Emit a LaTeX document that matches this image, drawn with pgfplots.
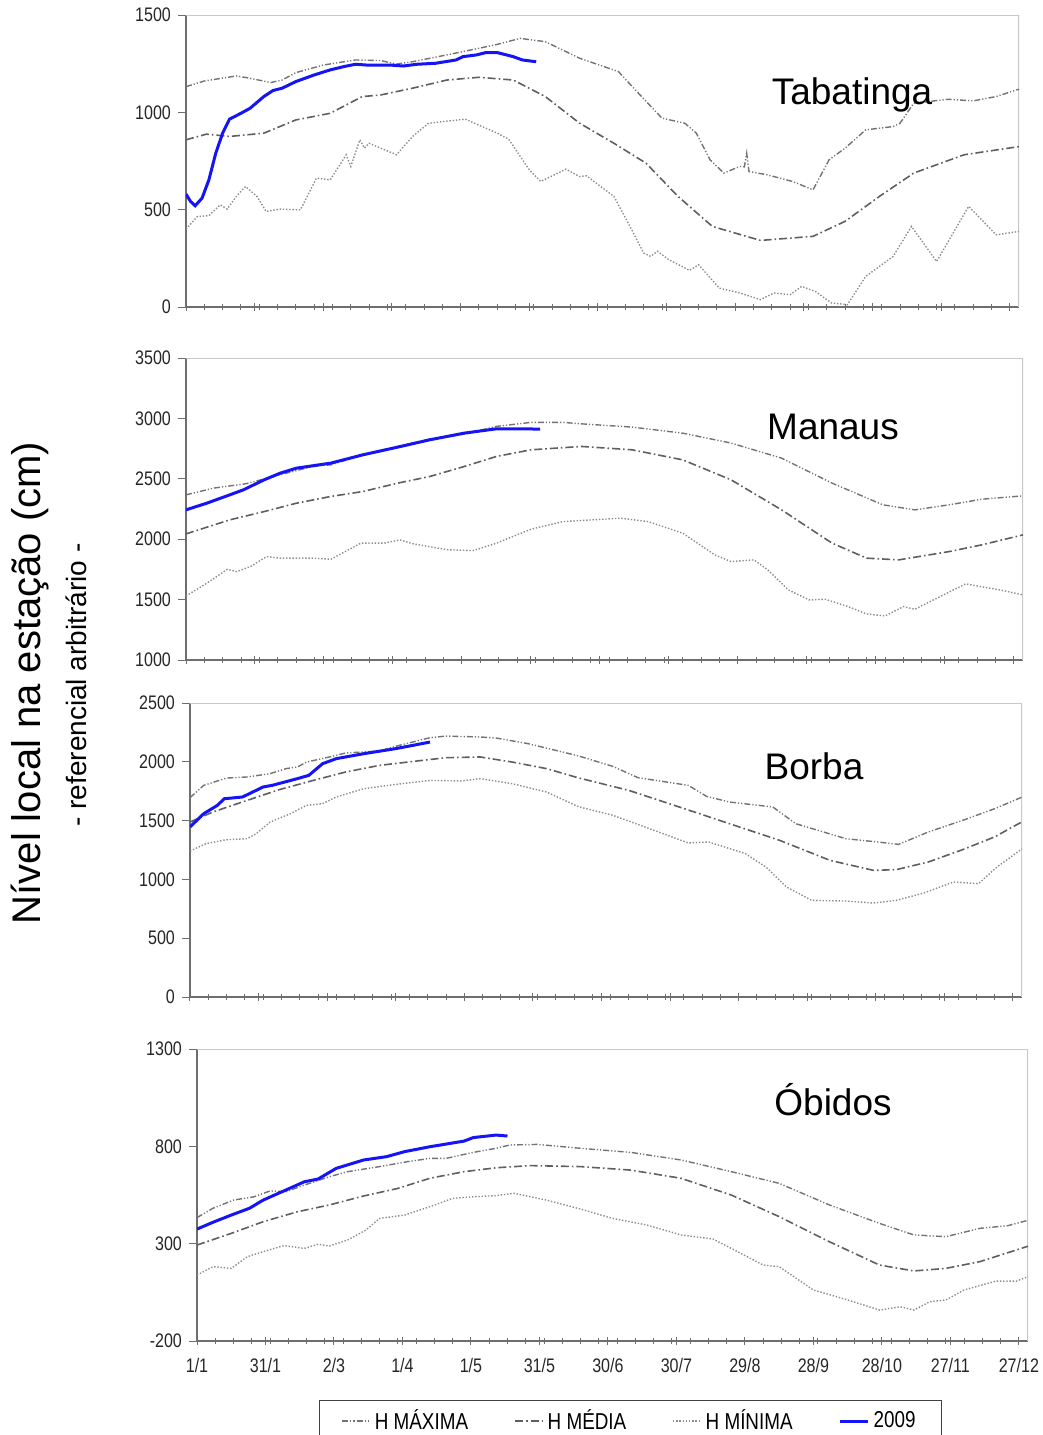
\documentclass[border=0pt]{standalone}
\usepackage{pgfplots}
\pgfplotsset{compat=1.18}
\usepackage{fontspec}
\setmainfont{Liberation Sans}
\newfontfamily\narrowfont[FakeStretch=0.82]{Liberation Sans}
\definecolor{cmax}{RGB}{115,115,115}
\definecolor{cmed}{RGB}{95,95,95}
\definecolor{cmin}{RGB}{140,140,140}
\definecolor{c09}{RGB}{20,20,245}
\definecolor{axgray}{RGB}{110,110,110}
\definecolor{bordergray}{RGB}{200,200,200}
\pgfplotsset{
  hmax/.style={color=cmax, line width=0.7pt, dash pattern=on 3pt off 1pt on 0.6pt off 1pt on 0.6pt off 1pt},
  hmed/.style={color=cmed, line width=0.8pt, dash pattern=on 4pt off 1.5pt on 0.8pt off 1.5pt},
  hmin/.style={color=cmin, line width=0.7pt, dash pattern=on 0.7pt off 0.9pt},
  y09/.style={color=c09, line width=1.5pt},
  panel/.style={
    scale only axis, anchor=south west,
    xmin=0, xmax=364,
    axis x line*=bottom, axis y line*=left,
    axis line style={draw=axgray, line width=0.6pt},
    xtick={0,30,...,360}, minor xtick={0,8,...,360},
    xticklabels={},
    xtick align=center, ytick align=outside,
    major tick length=4pt, minor tick length=3pt,
    every tick/.style={axgray, line width=0.5pt},
    /pgf/number format/assume math mode=true,
    /pgf/number format/1000 sep={},
    yticklabel style={font=\narrowfont\fontsize{9.8}{11}\selectfont, text=black!85},
    xticklabel style={font=\narrowfont\fontsize{9.8}{11}\selectfont, text=black!85, yshift=-3pt},
  },
}
\newcommand{\plotborder}{\draw[bordergray, line width=0.6pt] (rel axis cs:0,1) -- (rel axis cs:1,1) -- (rel axis cs:1,0);}
\begin{document}
\begin{tikzpicture}
\useasboundingbox (0,0) rectangle (521.5pt,-717.5pt);

% ---------------- Tabatinga
\begin{axis}[panel, at={(93pt,-153.5pt)}, width=416.5pt, height=146pt,
  ymin=0, ymax=1500, ytick={0,500,1000,1500}]
\plotborder
\addplot[hmax] coordinates {(0,1132)(8,1161)(22,1187)(28,1175)(37,1153)(42,1166)(48,1204)(60,1243)(74,1269)(85,1266)(92,1248)(99,1260)(114,1295)(128,1329)(136,1349)(146,1380)(157,1363)(172,1278)(189,1209)(195,1132)(208,970)(218,944)(223,893)(229,756)(235,688)(242,722)(244,720)(245,790)(246,696)(254,679)(265,645)(274,602)(281,756)(288,816)(297,910)(309,927)(312,944)(318,1047)(333,1067)(344,1059)(354,1081)(364,1119)};
\addplot[hmed] coordinates {(0,859)(9,888)(19,876)(34,893)(48,961)(63,995)(77,1081)(85,1089)(99,1124)(114,1166)(128,1180)(143,1166)(157,1081)(172,944)(187,841)(201,739)(215,568)(230,414)(251,342)(274,363)(288,440)(303,568)(318,688)(340,782)(364,824)};
\addplot[hmin] coordinates {(0,400)(5,465)(10,469)(15,525)(18,503)(22,568)(26,619)(31,568)(35,491)(41,503)(50,499)(57,662)(63,653)(70,782)(72,722)(76,859)(78,816)(80,841)(92,782)(99,876)(106,944)(122,965)(136,893)(141,862)(150,705)(155,645)(166,708)(172,670)(175,674)(187,568)(194,414)(200,277)(203,260)(206,286)(211,243)(220,188)(224,217)(233,97)(242,72)(251,38)(257,72)(264,63)(269,106)(275,80)(282,21)(289,12)(297,157)(309,260)(317,414)(328,234)(342,517)(354,371)(364,388)};
\addplot[y09] coordinates {(0,580)(2,542)(4,520)(7,559)(10,653)(13,790)(16,893)(19,965)(24,995)(28,1021)(34,1081)(38,1112)(42,1124)(48,1158)(56,1192)(63,1218)(69,1235)(74,1247)(80,1242)(89,1243)(95,1238)(101,1247)(109,1252)(118,1269)(121,1286)(127,1295)(131,1307)(136,1307)(143,1286)(147,1269)(153,1260)};
\end{axis}

% ---------------- Manaus
\begin{axis}[panel, at={(93pt,-330pt)}, width=418.5pt, height=151pt,
  ymin=1000, ymax=3500, ytick={1000,1500,...,3500}]
\plotborder
\addplot[hmax] coordinates {(0,2367)(12,2423)(26,2459)(38,2519)(55,2602)(63,2616)(77,2699)(92,2768)(106,2829)(121,2870)(135,2934)(150,2967)(164,2967)(172,2955)(194,2928)(216,2878)(237,2796)(259,2671)(281,2464)(303,2285)(317,2243)(332,2285)(346,2331)(364,2359)};
\addplot[hmed] coordinates {(0,2044)(19,2160)(34,2229)(48,2298)(63,2354)(77,2395)(92,2464)(106,2519)(121,2602)(135,2685)(150,2740)(172,2768)(194,2740)(216,2657)(237,2492)(259,2243)(281,1967)(296,1843)(310,1829)(332,1898)(346,1953)(364,2036)};
\addplot[hmin] coordinates {(0,1530)(9,1635)(18,1751)(22,1732)(28,1773)(35,1856)(41,1843)(55,1843)(63,1834)(76,1967)(86,1967)(93,1994)(99,1961)(114,1912)(125,1906)(135,1967)(150,2083)(164,2146)(172,2155)(189,2174)(201,2146)(216,2050)(230,1870)(237,1815)(247,1829)(253,1746)(262,1580)(271,1497)(278,1503)(288,1442)(296,1381)(304,1365)(312,1442)(317,1420)(325,1497)(339,1630)(354,1580)(364,1539)};
\addplot[y09] coordinates {(0,2243)(9,2298)(19,2367)(25,2409)(34,2492)(41,2547)(48,2588)(63,2630)(77,2699)(92,2762)(106,2823)(121,2878)(135,2914)(154,2912)};
\end{axis}

% ---------------- Borba
\begin{axis}[panel, at={(95pt,-498.5pt)}, width=416pt, height=147pt,
  ymin=0, ymax=2500, ytick={0,500,...,2500}]
\plotborder
\addplot[hmax] coordinates {(0,1695)(6,1800)(16,1862)(25,1871)(35,1899)(42,1942)(47,1956)(51,1998)(61,2041)(68,2075)(83,2092)(90,2132)(105,2205)(112,2219)(127,2211)(134,2202)(148,2154)(170,2050)(185,1961)(196,1865)(218,1800)(226,1706)(236,1658)(255,1616)(265,1474)(287,1346)(301,1318)(310,1298)(323,1403)(338,1502)(352,1601)(364,1700)};
\addplot[hmed] coordinates {(0,1488)(10,1573)(25,1672)(39,1763)(54,1842)(68,1913)(83,1970)(98,2004)(112,2035)(127,2041)(141,1998)(156,1942)(170,1863)(192,1757)(214,1616)(236,1474)(258,1332)(280,1162)(299,1077)(309,1083)(323,1148)(338,1253)(352,1361)(364,1490)};
\addplot[hmin] coordinates {(0,1241)(7,1304)(16,1338)(25,1346)(29,1389)(35,1488)(44,1559)(51,1630)(58,1644)(64,1701)(76,1771)(90,1808)(105,1842)(119,1837)(127,1857)(141,1814)(156,1743)(170,1618)(185,1545)(199,1446)(218,1310)(227,1318)(243,1219)(252,1105)(261,935)(272,822)(287,816)(299,799)(309,822)(321,884)(334,978)(345,964)(353,1105)(364,1260)};
\addplot[y09] coordinates {(0,1446)(6,1559)(12,1630)(15,1686)(23,1701)(32,1786)(36,1800)(47,1857)(52,1885)(58,1984)(64,2027)(76,2069)(90,2112)(105,2168)};
\end{axis}

% ---------------- Obidos
\begin{axis}[panel, at={(98.5pt,-670.5pt)}, width=415.5pt, height=146pt,
  ymin=-200, ymax=1300, ytick={-200,300,800,1300},
  xticklabels={1/1,31/1,2/3,1/4,1/5,31/5,30/6,30/7,29/8,28/9,28/10,27/11,27/12},
  legend columns=4,
  legend style={at={(axis description cs:0.5217,-0.202)}, anchor=north,
    draw=black!75, line width=0.6pt, inner xsep=11pt, inner ysep=2.5pt,
    font=\narrowfont\fontsize{11.5}{13}\selectfont,
    /tikz/every even column/.append style={column sep=21pt}},
  legend image code/.code={\draw[#1] (0pt,0pt) -- (14pt,0pt);},
  legend cell align=left]
\plotborder
\addplot[hmax] coordinates {(0,434)(7,482)(16,524)(25,541)(32,571)(39,567)(47,601)(58,644)(66,670)(80,696)(92,721)(102,738)(109,738)(121,769)(131,790)(137,807)(149,810)(168,790)(190,769)(212,730)(234,670)(255,610)(277,499)(299,404)(314,345)(328,336)(343,379)(355,392)(364,420)};
\addlegendentry{H MÁXIMA}
\addplot[hmed] coordinates {(0,293)(15,353)(29,413)(44,464)(58,499)(73,545)(88,584)(102,636)(117,670)(131,690)(146,701)(168,696)(190,678)(212,636)(234,550)(255,439)(277,310)(299,190)(314,160)(328,173)(343,208)(364,287)};
\addlegendentry{H MÉDIA}
\addplot[hmin] coordinates {(0,139)(7,182)(15,173)(22,233)(29,259)(38,290)(47,276)(53,297)(58,288)(66,319)(74,370)(80,430)(91,447)(102,490)(112,533)(121,541)(131,547)(139,559)(153,524)(168,478)(182,430)(197,396)(212,345)(226,324)(234,276)(248,190)(255,182)(270,62)(285,11)(299,-41)(308,-24)(314,-41)(321,2)(328,11)(336,62)(350,108)(359,108)(364,130)};
\addlegendentry{H MÍNIMA}
\addplot[y09] coordinates {(0,375)(7,410)(15,447)(23,482)(29,524)(39,576)(47,618)(53,632)(61,687)(73,730)(83,747)(91,773)(102,798)(117,827)(121,845)(131,858)(136,853)};
\addlegendentry{2009}
\end{axis}

% station names
\node[font=\fontsize{18.5}{22}\selectfont] at (426pt,-47.5pt) {Tabatinga};
\node[font=\fontsize{18.5}{22}\selectfont] at (416.5pt,-213.5pt) {Manaus};
\node[font=\fontsize{18.5}{22}\selectfont] at (407pt,-383pt) {Borba};
\node[font=\fontsize{18.5}{22}\selectfont] at (416.5pt,-550pt) {Óbidos};

% y label
\node[rotate=90, font=\fontsize{20}{24}\selectfont] at (15pt,-341.5pt) {Nível local na estação (cm)};
\node[rotate=90, font=\fontsize{14}{17}\selectfont] at (38pt,-342.5pt) {- referencial arbitrário -};
\end{tikzpicture}
\end{document}
